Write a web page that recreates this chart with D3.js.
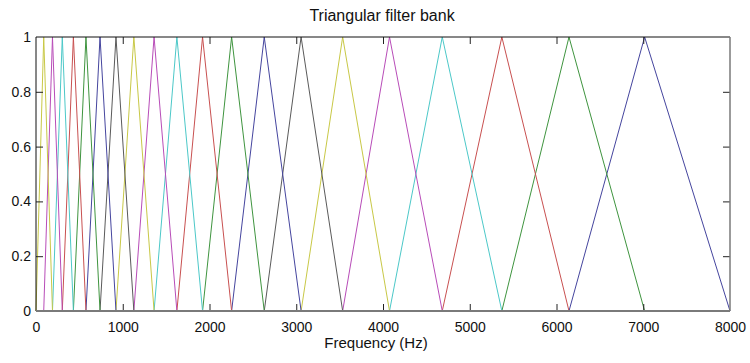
<!DOCTYPE html>
<html>
<head>
<meta charset="utf-8">
<script src="https://cdn.jsdelivr.net/npm/d3@7"></script>
<style>
  html, body { margin: 0; padding: 0; background: #fff; overflow: hidden; }
  svg { display: block; }
  text { font-family: "Liberation Sans", Arial, sans-serif; fill: #111; }
</style>
</head>
<body>
<div id="chart"></div>
<script>
// Band edges (Hz): filter i rises from edges[i] to a peak at edges[i+1] and falls to edges[i+2]
const bandEdges = [0, 89, 190, 303, 431, 576, 738, 922, 1128, 1361, 1624, 1920,
  2255, 2631, 3056, 3535, 4075, 4683, 5370, 6144, 7016, 8000];
const peakValue = 1;
// colour of each filter, lowest to highest band
const filterColors = ['#c8c846', '#b84cb8', '#4cc8c8', '#c85050', '#3f943f', '#45459e', '#5a5a5a'];
const xTicks = [0, 1000, 2000, 3000, 4000, 5000, 6000, 7000, 8000];
const yTicks = [0, 0.2, 0.4, 0.6, 0.8, 1];

const width = 750, height = 363;
const margin = { top: 37, right: 20, bottom: 52, left: 36 };
const innerWidth = width - margin.left - margin.right;
const innerHeight = height - margin.top - margin.bottom;

const svg = d3.select('#chart').append('svg')
  .attr('width', width)
  .attr('height', height)
  .attr('viewBox', `0 0 ${width} ${height}`);

const g = svg.append('g')
  .attr('transform', `translate(${margin.left},${margin.top})`);

const x = d3.scaleLinear().domain([0, 8000]).range([0, innerWidth]);
const y = d3.scaleLinear().domain([0, 1]).range([innerHeight, 0]);

// Build triangles
const filters = d3.range(bandEdges.length - 2).map(i => ({
  color: filterColors[i % filterColors.length],
  pts: [[bandEdges[i], 0], [bandEdges[i + 1], peakValue], [bandEdges[i + 2], 0]]
}));

const line = d3.line().x(d => x(d[0])).y(d => y(d[1]));

// draw highest band first, like the original plotting order
g.append('g').attr('class', 'lines')
  .selectAll('path')
  .data(filters.slice().reverse())
  .join('path')
  .attr('d', d => line(d.pts))
  .attr('fill', 'none')
  .attr('stroke', d => d.color)
  .attr('stroke-width', 1);

// Axes (MATLAB style: inward ticks on all four sides)
const tickLen = 7;
const xAxis = g.append('g')
  .attr('font-size', 14)
  .attr('transform', `translate(0,${innerHeight})`)
  .call(d3.axisBottom(x).tickValues(xTicks).tickSize(-tickLen).tickPadding(11).tickFormat(d3.format('d')));
const xAxisTop = g.append('g')
  .call(d3.axisTop(x).tickValues(xTicks).tickSize(-tickLen).tickFormat(''));
const yAxis = g.append('g')
  .call(d3.axisLeft(y).tickValues(yTicks).tickSize(-tickLen).tickPadding(5).tickFormat(d3.format('~g')));
const yAxisRight = g.append('g')
  .attr('transform', `translate(${innerWidth},0)`)
  .call(d3.axisRight(y).tickValues(yTicks).tickSize(-tickLen).tickFormat(''));

[xAxis, xAxisTop, yAxis, yAxisRight].forEach(a => {
  a.attr('font-size', 14).attr('font-family', null);
  a.select('.domain').remove();
  a.selectAll('.tick line').attr('stroke', '#222');
  a.selectAll('.tick text').attr('fill', '#111');
});
// keep the end ticks off the box corners
xAxis.selectAll('.tick line').filter(d => d === 0 || d === 8000).remove();
xAxisTop.selectAll('.tick line').filter(d => d === 0 || d === 8000).remove();
yAxis.selectAll('.tick line').filter(d => d === 0 || d === 1).remove();
yAxisRight.selectAll('.tick line').filter(d => d === 0 || d === 1).remove();

// Box
g.append('line').attr('x1', 0).attr('x2', innerWidth).attr('y1', 0).attr('y2', 0)
  .attr('stroke', '#111').attr('stroke-width', 1);
g.append('line').attr('x1', 0).attr('x2', 0).attr('y1', 0).attr('y2', innerHeight)
  .attr('stroke', '#111').attr('stroke-width', 1);
g.append('line').attr('x1', innerWidth).attr('x2', innerWidth).attr('y1', 0).attr('y2', innerHeight)
  .attr('stroke', '#7a7a7a').attr('stroke-width', 1.5);
g.append('line').attr('x1', 0).attr('x2', innerWidth).attr('y1', innerHeight).attr('y2', innerHeight)
  .attr('stroke', '#7a7a7a').attr('stroke-width', 2);

// Title and label
svg.append('text')
  .attr('x', margin.left + innerWidth / 2 - 1)
  .attr('y', 21)
  .attr('text-anchor', 'middle')
  .attr('font-size', 16)
  .text('Triangular filter bank');

svg.append('text')
  .attr('x', margin.left + innerWidth / 2 - 7)
  .attr('y', 348)
  .attr('text-anchor', 'middle')
  .attr('font-size', 15)
  .text('Frequency (Hz)');
</script>
</body>
</html>
